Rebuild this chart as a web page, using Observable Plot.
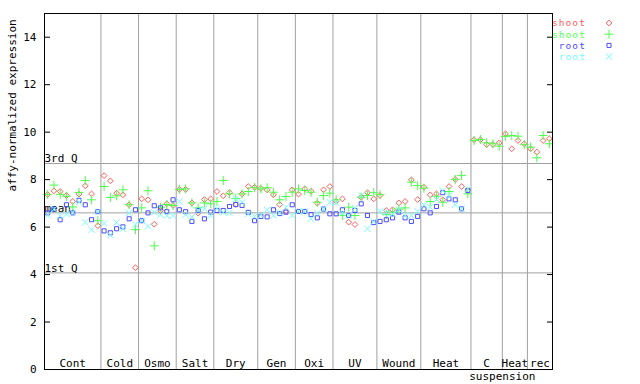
<!DOCTYPE html>
<html><head><meta charset="utf-8">
<script src="https://cdn.jsdelivr.net/npm/d3@7"></script>
<script src="https://cdn.jsdelivr.net/npm/@observablehq/plot@0.6"></script>
<style>body{margin:0;background:#fff}#chart svg{display:block}</style>
</head><body><div id="chart"></div>
<script>
// ---- data ----
const groupLabels = ["Cont","Cold","Osmo","Salt","Dry","Gen","Oxi","UV","Wound","Heat","C","Heat","rec"];
const groupSizes  = [9,6,6,6,7,6,6,7,7,8,5,4,4];
const extraLabel = "suspension";
const seriesNames = ["shoot","shoot","root","root"];
const seriesColors = ["#ff5c5c","#4cff4c","#4c4cff","#70ffff"];
const seriesSymbols = ["diamond2","plus","square2","times"];

const shootRed = [
  7.37,7.53,7.50,7.33,7.08,7.39,7.74,7.40,6.06,
  8.17,7.95,7.43,7.36,6.94,4.29,
  7.19,7.15,6.12,6.70,6.98,6.91,
  7.59,7.59,7.02,6.59,7.16,7.19,
  7.50,7.32,7.45,6.95,7.40,7.71,7.68,
  7.63,7.57,7.36,6.95,6.66,7.57,
  7.39,7.61,7.51,7.01,7.57,7.71,
  7.09,7.19,6.21,6.11,7.26,7.45,7.19,
  7.33,6.70,6.73,7.02,7.08,7.99,7.16,
  7.68,7.36,7.40,7.15,7.71,8.01,7.71,7.54,
  9.68,9.68,9.48,9.48,9.55,
  9.93,9.30,9.65,9.51,
  9.30,9.16,9.65,9.72
];
const shootGreen = [
  7.38,7.77,7.38,7.30,6.85,7.46,7.96,7.15,6.27,
  7.71,7.25,7.32,7.57,6.94,5.89,
  6.81,7.53,5.21,6.84,6.95,6.91,
  7.59,7.61,7.02,6.81,7.02,6.98,
  7.08,7.96,7.40,7.20,7.40,7.50,7.66,
  7.61,7.66,7.47,7.15,7.29,7.47,
  7.61,7.54,7.47,7.05,7.33,7.43,
  7.15,6.49,6.84,6.49,7.26,7.33,7.45,
  7.37,6.53,6.63,6.76,6.81,7.89,7.75,
  7.64,7.08,7.30,7.05,7.50,8.01,8.18,7.40,
  9.65,9.69,9.55,9.51,9.41,
  9.82,9.86,9.83,9.47,
  9.37,8.92,9.86,9.51
];
const rootBlue = [
  6.60,6.76,6.31,6.94,6.60,7.13,6.94,6.31,6.65,
  5.84,5.76,5.93,6.01,6.35,6.73,
  6.27,6.60,6.90,6.81,6.65,7.15,
  6.73,6.65,6.24,6.70,6.35,6.63,
  6.70,6.70,6.87,6.95,6.91,6.62,6.27,
  6.45,6.43,6.73,6.57,6.63,6.94,
  6.66,6.66,6.53,6.39,6.76,6.56,
  6.56,6.73,6.49,6.70,6.98,6.49,6.19,
  6.24,6.31,6.39,6.63,6.39,6.24,6.45,
  6.77,6.60,6.87,7.45,7.19,7.15,6.77,7.54,
  null,null,null,null,null,
  null,null,null,null,
  null,null,null,null
];
const rootCyan = [
  6.50,6.75,6.48,6.55,6.62,7.05,6.20,5.89,6.65,
  6.15,5.66,6.19,5.93,6.60,6.10,
  6.27,6.03,6.62,6.52,6.48,6.48,
  7.08,6.52,6.42,6.70,6.77,6.49,
  6.78,6.62,6.60,7.19,7.04,6.55,6.45,
  6.50,6.73,6.49,6.60,6.83,6.49,
  6.66,6.66,6.35,6.59,6.76,7.05,
  7.02,6.60,6.49,6.80,7.33,5.93,6.24,
  6.66,6.60,6.55,6.73,6.49,6.49,6.66,
  6.94,6.84,7.16,7.54,7.33,6.94,6.77,7.61,
  null,null,null,null,null,
  null,null,null,null,
  null,null,null,null
];
const yTicks = [0,2,4,6,8,10,12,14];
const quantLabels = ["3rd Q","mean","1st Q"];
const quantValues = [8.68,6.60,4.07];
const yLabel = "affy-normalized expression";

// ---- derived tables ----
const starts = []; let acc = 0;
for (const n of groupSizes) { starts.push(acc); acc += n; }
const total = acc;
const groups = groupLabels.map((label, k) => ({label, mid: starts[k] + groupSizes[k] / 2}));
const boundaries = starts.slice(1);
const seriesValues = [shootRed, shootGreen, rootBlue, rootCyan];
const seriesPoints = seriesValues.map(vals =>
  vals.map((v, i) => ({x: i + 0.5, y: v})).filter(d => d.y != null));
const quants = quantLabels.map((label, k) => ({label, y: quantValues[k]}));
const extra = [{label: extraLabel, x: starts[groupLabels.length - 2]}];

const FONT = "DejaVu Sans Mono";
const grey = "#a0a0a0";

const chart = Plot.plot({
  width: 640, height: 384,
  marginLeft: 44, marginRight: 88, marginTop: 13, marginBottom: 15,
  style: {fontFamily: FONT, fontSize: "11px", background: "#fff", overflow: "visible", color: "#000"},
  x: {domain: [0, total], axis: null},
  y: {domain: [0, 15], axis: null},
  marks: [
    Plot.ruleX(boundaries, {stroke: grey, strokeWidth: 1}),
    Plot.ruleY(quants, {y: "y", stroke: grey, strokeWidth: 1}),
    Plot.text(quants, {y: "y", text: "label", frameAnchor: "left", textAnchor: "start", lineAnchor: "bottom", dy: -1, fill: "#000", letterSpacing: "0.4px"}),
    Plot.text(groups, {x: "mid", y: () => 0, text: "label", lineAnchor: "bottom", dy: -3, fill: "#000", letterSpacing: "0.4px"}),
    Plot.text(extra, {x: "x", y: () => 0, text: "label", lineAnchor: "bottom", dy: 10, fill: "#000", letterSpacing: "0.4px"}),
    ...seriesPoints.map((pts, s) => Plot.dot(pts, {
      x: "x", y: "y", symbol: () => seriesSymbols[s], stroke: seriesColors[s], fill: "none",
      r: s === 0 || s === 2 ? 2.6 : 3, strokeWidth: 1
    })),
    Plot.axisY(yTicks, {anchor: "left", tickSize: -6, tickPadding: 14, label: null, fill: "#000", stroke: "#000"}),
    Plot.axisY(yTicks, {anchor: "right", tickSize: -6, tickFormat: () => "", label: null, stroke: "#000"}),
    Plot.text([yLabel], {frameAnchor: "left", dx: -32, rotate: -90, lineAnchor: "middle", fill: "#000", letterSpacing: "0.4px"}),
    Plot.frame({stroke: "#000", strokeWidth: 1})
  ]
});
document.getElementById("chart").appendChild(chart);

// ---- legend (top right) ----
const svg = d3.select(chart.tagName.toLowerCase() === "svg" ? chart : chart.querySelector("svg"));
const lg = svg.append("g").attr("font-family", FONT).attr("font-size", "9.5px");
seriesNames.forEach((name, k) => {
  const yy = 23 + k * 11.2;
  lg.append("text").attr("x", 586).attr("y", yy).attr("dy", "0.35em")
    .attr("letter-spacing", "1.1px")
    .attr("text-anchor", "end").attr("fill", seriesColors[k]).text(name);
  const sym = {diamond2: d3.symbolDiamond2, plus: d3.symbolPlus, square2: d3.symbolSquare2, times: d3.symbolTimes}[seriesSymbols[k]];
  lg.append("path").attr("transform", `translate(609,${yy})`)
    .attr("d", d3.symbol(sym, k === 0 || k === 2 ? 21 : 28)())
    .attr("fill", "none").attr("stroke", seriesColors[k]).attr("stroke-width", 1);
});
</script>
</body></html>
